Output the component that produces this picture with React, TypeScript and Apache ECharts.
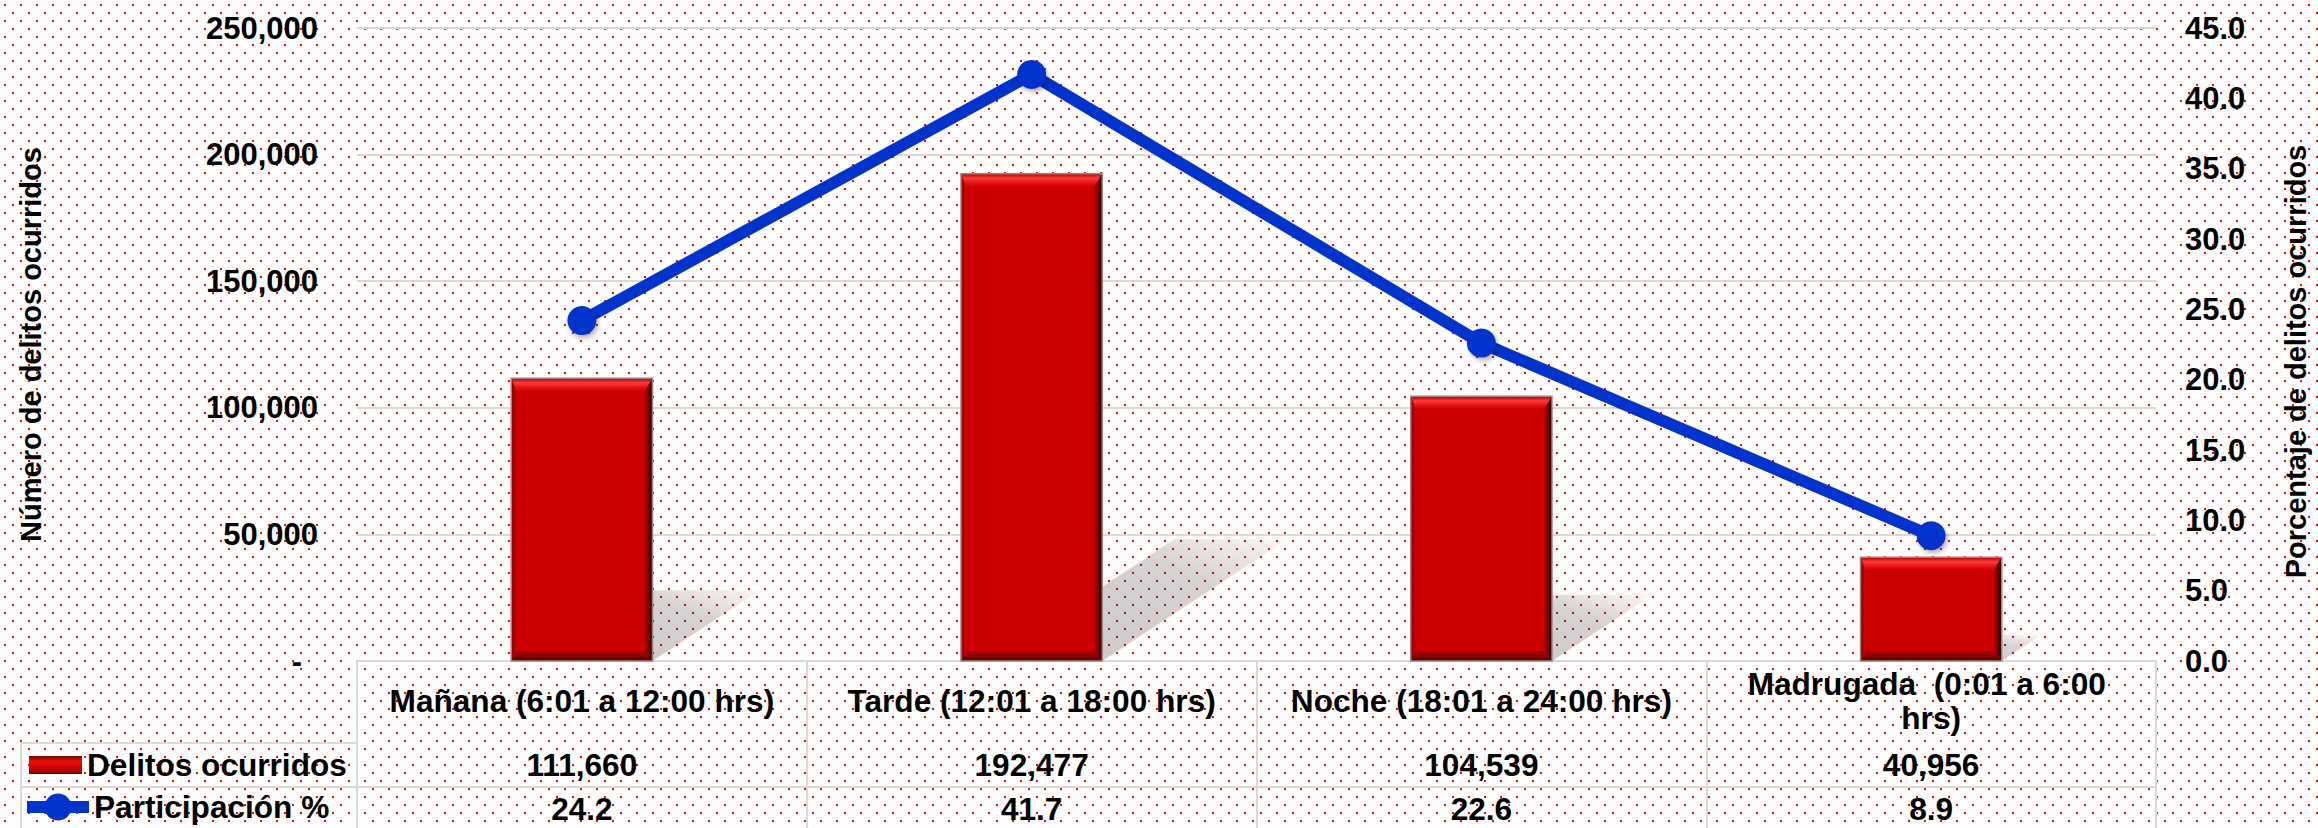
import React, { useEffect, useRef } from "react";
import * as echarts from "echarts";

const categories = [
  "Mañana (6:01 a 12:00 hrs)",
  "Tarde (12:01 a 18:00 hrs)",
  "Noche (18:01 a 24:00 hrs)",
  "Madrugada  (0:01 a 6:00 hrs)",
];
const delitos = [111660, 192477, 104539, 40956];
const participacion = [24.2, 41.7, 22.6, 8.9];
const seriesNames = ["Delitos ocurridos", "Participación %"];
const axisTitles = ["Número de delitos ocurridos", "Porcentaje de delitos ocurridos"];

const FONT = '"Liberation Sans", Arial, sans-serif';
const GRID_LEFT = 357;
const GRID_RIGHT_X = 2161;
const GRID_TOP = 28;
const GRID_BOTTOM_Y = 661;
const ROW1 = 743;
const ROW2 = 787;
const LEG_LEFT = 21;
const LINE_COLOR = "#D9D9D9";

const fmtInt = (v: number) => v.toLocaleString("en-US");

const dotsBg =
  "url(\"data:image/svg+xml,%3Csvg xmlns='http://www.w3.org/2000/svg' width='16' height='16'%3E%3Crect x='4' y='4' width='2' height='2' fill='%23ff0000'/%3E%3Crect x='12' y='12' width='2' height='2' fill='%23ff0000'/%3E%3C/svg%3E\")";

const LG = (x1: number, y1: number, x2: number, y2: number, stops: [number, string][]) =>
  new echarts.graphic.LinearGradient(
    x1, y1, x2, y2,
    stops.map(([offset, color]) => ({ offset, color }))
  );

function renderBar(params: any, api: any) {
  const i = api.value(0);
  const v = api.value(1);
  const top = api.coord([i, v]);
  const base = api.coord([i, 0]);
  const w = api.size([1, 0])[0] * 0.314;
  const x = top[0] - w / 2;
  const y = top[1];
  const h = base[1] - top[1];
  const bt = 13, bb = 10, bl = 5, br = 8;
  return {
    type: "group",
    children: [
      { type: "rect", shape: { x, y, width: w, height: h }, style: { fill: "#CC0000" } },
      {
        type: "polygon",
        shape: { points: [[x, y], [x + w, y], [x + w - br, y + bt], [x + bl, y + bt]] },
        style: { fill: LG(0, 0, 0, 1, [[0, "#B00000"], [0.35, "#FF3A3A"], [0.7, "#E41414"], [1, "#CC0000"]]) },
      },
      {
        type: "polygon",
        shape: { points: [[x, y + h], [x + w, y + h], [x + w - br, y + h - bb], [x + bl, y + h - bb]] },
        style: { fill: LG(0, 0, 0, 1, [[0, "#B20000"], [1, "#5A0000"]]) },
      },
      {
        type: "polygon",
        shape: { points: [[x + w, y], [x + w, y + h], [x + w - br, y + h - bb], [x + w - br, y + bt]] },
        style: { fill: LG(0, 0, 1, 0, [[0, "#C00000"], [0.5, "#780000"], [1, "#140000"]]) },
      },
      {
        type: "polygon",
        shape: { points: [[x, y], [x + bl, y + bt], [x + bl, y + h - bb], [x, y + h]] },
        style: { fill: LG(0, 0, 1, 0, [[0, "#8A0000"], [1, "#C80000"]]) },
      },
      {
        type: "rect",
        shape: { x, y, width: w, height: h },
        style: { fill: "none", stroke: "#A08080", lineWidth: 1.5 },
      },
    ],
  };
}

function renderShadow(params: any, api: any) {
  const i = api.value(0);
  const v = api.value(1);
  const top = api.coord([i, v]);
  const base = api.coord([i, 0]);
  const w = api.size([1, 0])[0] * 0.314;
  const x = top[0] - w / 2;
  const h = base[1] - top[1];
  const dx = 0.38 * h;
  const dy = 0.25 * h;
  const b = base[1];
  return {
    type: "polygon",
    shape: { points: [[x + w * 0.2, b], [x + w, b], [x + w + dx, b - dy], [x + w * 0.2 + dx, b - dy]] },
    style: {
      fill: LG(0, 1, 1, 0, [[0, "rgba(0,0,0,0.22)"], [0.7, "rgba(0,0,0,0.17)"], [1, "rgba(0,0,0,0.02)"]]),
    },
  };
}

export default function App() {
  const ref = useRef<HTMLDivElement>(null);

  useEffect(() => {
    if (!ref.current) return;
    const chart = echarts.init(ref.current, undefined, { renderer: "svg" });
    const labelStyle = { fontFamily: FONT, fontSize: 31, fontWeight: "bold" as const, color: "#000" };
    const tableStyle = { ...labelStyle, fontSize: 31.6 };

    chart.setOption({
      animation: false,
      backgroundColor: "transparent",
      textStyle: { fontFamily: FONT },
      grid: {
        left: GRID_LEFT,
        right: 2318 - GRID_RIGHT_X,
        top: GRID_TOP,
        bottom: 828 - GRID_BOTTOM_Y,
        containLabel: false,
      },
      legend: [
        {
          data: [
            {
              name: seriesNames[0],
              icon: "rect",
              itemStyle: {
                color: LG(0, 0, 0, 1, [[0, "#7A0000"], [0.3, "#E81010"], [0.7, "#CC0000"], [1, "#6A0000"]]),
              },
            },
          ],
          left: 29,
          top: 749,
          itemWidth: 53,
          itemHeight: 18,
          padding: 0,
          textStyle: { ...tableStyle },
          selectedMode: false,
        },
        {
          data: [seriesNames[1]],
          left: 21,
          top: 791,
          itemWidth: 62,
          itemHeight: 34,
          padding: 0,
          lineStyle: { width: 12, color: "#0033CC" },
          textStyle: { ...tableStyle },
          selectedMode: false,
        },
      ],
      xAxis: [
        {
          type: "category",
          data: categories,
          position: "bottom",
          boundaryGap: true,
          axisLine: { show: true, lineStyle: { color: LINE_COLOR, width: 2 } },
          axisTick: { show: true, alignWithLabel: false, length: 170, lineStyle: { color: LINE_COLOR, width: 2 } },
          axisLabel: {
            ...tableStyle,
            interval: 0,
            margin: 40,
            width: 405,
            overflow: "break",
            lineHeight: 34,
            verticalAlign: "middle",
          },
        },
        {
          type: "category",
          data: delitos.map(fmtInt),
          position: "bottom",
          offset: ROW1 - GRID_BOTTOM_Y,
          axisLine: { show: true, lineStyle: { color: LINE_COLOR, width: 2 } },
          axisTick: { show: false },
          axisLabel: { ...tableStyle, interval: 0, margin: 22, verticalAlign: "middle" },
        },
        {
          type: "category",
          data: participacion.map((v) => v.toFixed(1)),
          position: "bottom",
          offset: ROW2 - GRID_BOTTOM_Y,
          axisLine: { show: true, lineStyle: { color: LINE_COLOR, width: 2 } },
          axisTick: { show: false },
          axisLabel: { ...tableStyle, interval: 0, margin: 22, verticalAlign: "middle" },
        },
      ],
      yAxis: [
        {
          type: "value",
          min: 0,
          max: 250000,
          interval: 50000,
          position: "left",
          name: axisTitles[0],
          nameLocation: "middle",
          nameRotate: 90,
          nameGap: 312,
          nameTextStyle: { fontFamily: FONT, fontSize: 29, fontWeight: "bold", color: "#000" },
          axisLine: { show: false },
          axisTick: { show: false },
          splitLine: { show: true, lineStyle: { color: LINE_COLOR, width: 2 } },
          axisLabel: {
            ...labelStyle,
            margin: 39,
            formatter: (v: number) => (v === 0 ? "{d|-}" : fmtInt(v)),
            rich: { d: { ...labelStyle, padding: [0, 16, 0, 0] } },
          },
        },
        {
          type: "value",
          min: 0,
          max: 45,
          interval: 5,
          position: "right",
          name: axisTitles[1],
          nameLocation: "middle",
          nameRotate: 90,
          nameGap: 125,
          nameTextStyle: {
            fontFamily: FONT,
            fontSize: 29,
            fontWeight: "bold",
            color: "#000",
            padding: [0, 34, 0, 0],
          },
          axisLine: { show: false },
          axisTick: { show: false },
          splitLine: { show: false },
          axisLabel: { ...labelStyle, margin: 29, formatter: (v: number) => v.toFixed(1) },
        },
      ],
      graphic: [
        {
          type: "line",
          shape: { x1: LEG_LEFT, y1: ROW1, x2: GRID_LEFT, y2: ROW1 },
          style: { stroke: LINE_COLOR, lineWidth: 2 },
        },
        {
          type: "line",
          shape: { x1: LEG_LEFT, y1: ROW2, x2: GRID_LEFT, y2: ROW2 },
          style: { stroke: LINE_COLOR, lineWidth: 2 },
        },
        {
          type: "line",
          shape: { x1: LEG_LEFT, y1: ROW1, x2: LEG_LEFT, y2: 830 },
          style: { stroke: LINE_COLOR, lineWidth: 2 },
        },
      ],
      series: [
        {
          type: "custom",
          name: "shadow",
          xAxisIndex: 0,
          yAxisIndex: 0,
          z: 1,
          silent: true,
          renderItem: renderShadow,
          encode: { x: 0, y: 1 },
          data: delitos.map((v, i) => [i, v]),
        },
        {
          type: "custom",
          name: seriesNames[0],
          xAxisIndex: 0,
          yAxisIndex: 0,
          z: 2,
          itemStyle: { color: "#CC0000" },
          renderItem: renderBar,
          encode: { x: 0, y: 1 },
          data: delitos.map((v, i) => [i, v]),
        },
        {
          type: "line",
          name: seriesNames[1],
          xAxisIndex: 0,
          yAxisIndex: 1,
          z: 5,
          data: participacion,
          symbol: "circle",
          symbolSize: 29,
          lineStyle: { color: "#0033CC", width: 12 },
          itemStyle: {
            color: "#0033CC",
            shadowBlur: 5,
            shadowColor: "rgba(0,0,0,0.3)",
            shadowOffsetX: 2,
            shadowOffsetY: 3,
          },
        },
      ],
    });
    return () => chart.dispose();
  }, []);

  return (
    <div
      ref={ref}
      style={{
        position: "fixed",
        left: 0,
        top: 0,
        width: 2318,
        height: 828,
        backgroundColor: "#ffffff",
        backgroundImage: dotsBg,
        backgroundRepeat: "repeat",
      }}
    />
  );
}
